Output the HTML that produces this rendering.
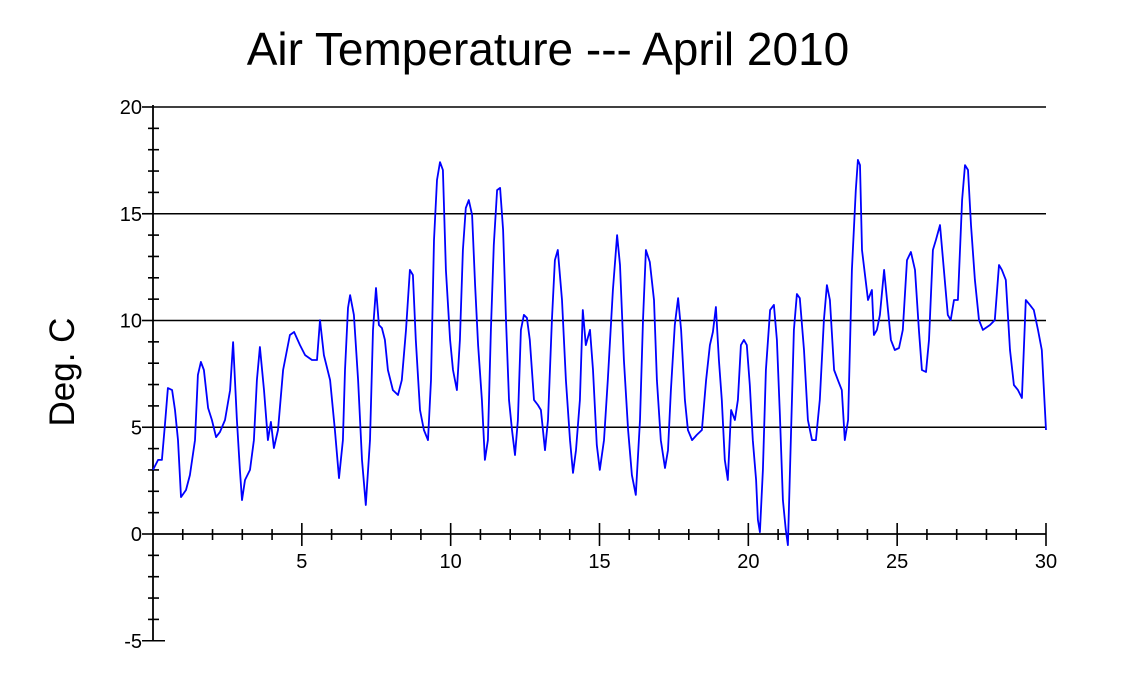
<!DOCTYPE html>
<html><head><meta charset="utf-8"><style>
html,body{margin:0;padding:0;background:#fff;}
svg{display:block;font-family:"Liberation Sans",Arial,sans-serif;}
</style></head><body>
<svg id="chart" width="1134" height="693" viewBox="0 0 1134 693" xmlns="http://www.w3.org/2000/svg">
<text x="548" y="65" font-size="46" text-anchor="middle" fill="#000">Air Temperature --- April 2010</text>
<text x="0" y="0" font-size="35" text-anchor="middle" fill="#000" transform="translate(74,372) rotate(-90)">Deg. C</text>
<g id="grid"></g>
<g id="axes"></g>
<g id="series"></g>
</svg>
<script>
const yTicks = [20, 15, 10, 5, 0, -5];
const xTicks = [5, 10, 15, 20, 25, 30];
const days = [0,.17,.30,.40,.50,.64,.74,.84,.94,1.11,1.24,1.41,1.51,1.61,1.71,1.85,1.98,2.12,2.25,2.42,2.59,2.69,2.82,2.92,2.99,3.09,3.26,3.39,3.49,3.59,3.73,3.86,3.96,4.06,4.20,4.37,4.60,4.74,4.94,5.11,5.34,5.51,5.61,5.74,5.95,6.11,6.25,6.38,6.45,6.55,6.62,6.75,6.89,7.02,7.15,7.29,7.39,7.49,7.59,7.69,7.79,7.89,8.06,8.23,8.36,8.50,8.63,8.73,8.83,8.97,9.10,9.24,9.34,9.44,9.54,9.64,9.74,9.84,9.98,10.08,10.21,10.31,10.41,10.51,10.61,10.72,10.82,10.92,11.05,11.15,11.25,11.35,11.45,11.56,11.66,11.76,11.86,11.96,12.06,12.16,12.26,12.36,12.46,12.56,12.66,12.80,12.93,13.03,13.17,13.27,13.40,13.50,13.60,13.74,13.87,14.01,14.11,14.21,14.34,14.44,14.54,14.68,14.78,14.91,15.01,15.15,15.28,15.45,15.59,15.69,15.82,15.96,16.09,16.22,16.36,16.46,16.56,16.69,16.83,16.93,17.06,17.20,17.30,17.40,17.53,17.64,17.74,17.87,17.97,18.11,18.27,18.44,18.58,18.71,18.81,18.91,19.01,19.11,19.21,19.31,19.42,19.55,19.65,19.75,19.85,19.95,20.05,20.15,20.26,20.32,20.39,20.49,20.59,20.73,20.86,20.96,21.06,21.16,21.26,21.33,21.40,21.53,21.63,21.73,21.87,22.00,22.14,22.27,22.40,22.54,22.64,22.74,22.88,23.01,23.14,23.24,23.35,23.48,23.61,23.68,23.75,23.82,23.92,24.02,24.15,24.22,24.32,24.42,24.56,24.66,24.79,24.92,25.06,25.19,25.33,25.46,25.60,25.73,25.83,25.97,26.07,26.20,26.30,26.44,26.57,26.70,26.80,26.91,27.04,27.18,27.28,27.38,27.48,27.61,27.75,27.88,28.12,28.28,28.42,28.52,28.65,28.79,28.92,29.06,29.19,29.32,29.46,29.59,29.73,29.86,30];
const temps = [3.0,3.47,3.47,5.1,6.84,6.74,5.81,4.4,1.73,2.06,2.76,4.4,7.45,8.06,7.68,5.9,5.34,4.54,4.78,5.34,6.74,8.99,5.34,3.0,1.59,2.53,3.0,4.4,7.21,8.76,6.74,4.4,5.25,4.03,4.87,7.68,9.32,9.46,8.85,8.38,8.15,8.15,10.02,8.38,7.21,4.87,2.62,4.4,7.68,10.59,11.19,10.26,7.21,3.47,1.36,4.4,9.56,11.52,9.79,9.65,9.09,7.68,6.74,6.51,7.21,9.56,12.37,12.13,9.09,5.81,4.87,4.4,7.21,13.77,16.58,17.42,17.05,12.37,9.09,7.68,6.74,9.09,13.3,15.27,15.64,14.94,11.66,8.85,6.28,3.47,4.4,9.56,13.54,16.11,16.21,14.24,10.02,6.28,4.87,3.7,5.34,9.56,10.26,10.12,9.09,6.28,6.04,5.81,3.93,5.34,10.02,12.83,13.3,10.96,7.21,4.4,2.86,3.93,6.28,10.49,8.85,9.56,7.68,4.17,3.0,4.4,7.21,11.43,14.0,12.6,8.15,4.87,2.76,1.83,5.34,10.02,13.3,12.74,10.96,7.21,4.4,3.09,3.93,6.74,9.79,11.05,9.56,6.28,4.87,4.4,4.64,4.87,7.21,8.85,9.46,10.63,8.15,6.28,3.47,2.53,5.81,5.34,6.28,8.85,9.09,8.85,6.98,4.4,2.53,0.66,0.09,3.0,7.68,10.49,10.73,9.09,5.57,1.59,0.19,-0.52,3.0,9.56,11.24,11.05,8.62,5.34,4.4,4.4,6.28,10.02,11.66,10.96,7.68,7.21,6.74,4.4,5.34,12.37,16.11,17.52,17.28,13.3,12.13,10.96,11.43,9.32,9.56,10.26,12.37,10.96,9.09,8.62,8.71,9.56,12.83,13.21,12.37,9.56,7.68,7.59,9.09,13.3,13.77,14.47,12.37,10.26,10.02,10.96,10.96,15.64,17.28,17.05,14.47,11.9,10.02,9.56,9.79,10.02,12.6,12.37,11.9,8.62,6.98,6.74,6.37,10.96,10.73,10.49,9.56,8.62,4.87];

const NS = 'http://www.w3.org/2000/svg';
const X0 = 153, X1 = 1046, Y20 = 107, Y0 = 534;
function sx(d){ return X0 + (X1 - X0) * d / 30; }
function sy(v){ return Y0 - (Y0 - Y20) * v / 20; }
function mk(tag, attrs, parent){
  const el = document.createElementNS(NS, tag);
  for (const k in attrs) el.setAttribute(k, attrs[k]);
  parent.appendChild(el);
  return el;
}
const grid = document.getElementById('grid');
const axes = document.getElementById('axes');
const series = document.getElementById('series');

yTicks.forEach(v => {
  if (v > 0) {
    const g = mk('line', {x1: X0, x2: X1, y1: sy(v), y2: sy(v), stroke: '#000', 'stroke-width': 1.6}, grid);
    
    
  }
  const t = mk('line', {x1: 142, x2: v === -5 ? 165 : X0, y1: sy(v), y2: sy(v), stroke: '#000', 'stroke-width': 1.6}, axes);
  
  
  const lb = mk('text', {x: 142, y: sy(v) + 7, 'font-size': 20, 'text-anchor': 'end', fill: '#000'}, axes);
  lb.textContent = String(v);
  
  
});
for (let v = -5; v <= 20; v++) {
  if (v % 5 === 0) continue;
  const t = mk('line', {x1: 148, x2: 159, y1: sy(v), y2: sy(v), stroke: '#000', 'stroke-width': 1.6}, axes);
  
  
}
const ya = mk('line', {x1: X0, x2: X0, y1: sy(20) - 2, y2: sy(-5), stroke: '#000', 'stroke-width': 1.8}, axes);


const xa = mk('line', {x1: X0, x2: X1, y1: Y0, y2: Y0, stroke: '#000', 'stroke-width': 1.8}, axes);


for (let d = 1; d <= 30; d++) {
  const major = d % 5 === 0;
  const t = mk('line', {x1: sx(d), x2: sx(d), y1: major ? 523 : 529, y2: major ? 546 : 540, stroke: '#000', 'stroke-width': 1.6}, axes);
  
  
}
xTicks.forEach(d => {
  const lb = mk('text', {x: sx(d), y: 568, 'font-size': 20, 'text-anchor': 'middle', fill: '#000'}, axes);
  lb.textContent = String(d);
  
  
});
let dstr = '';
days.forEach((d, i) => { dstr += (i ? 'L' : 'M') + sx(d).toFixed(1) + ' ' + sy(temps[i]).toFixed(1); });
const p = mk('path', {d: dstr, fill: 'none', stroke: '#0000ff', 'stroke-width': 1.8, 'stroke-linejoin': 'round'}, series);


</script>
</body></html>
